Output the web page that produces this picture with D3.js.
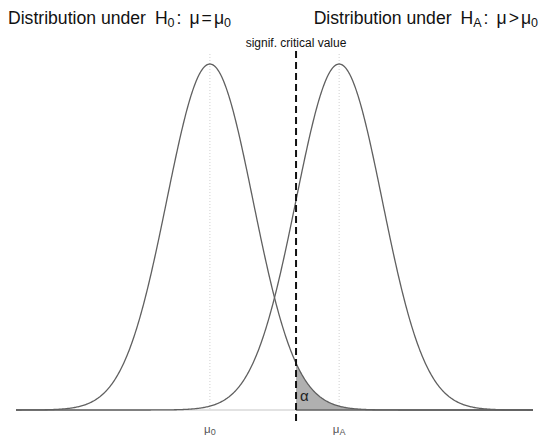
<!DOCTYPE html>
<html><head><meta charset="utf-8">
<script src="https://cdn.jsdelivr.net/npm/d3@7"></script>
<style>body{margin:0;background:#fff}svg{display:block}text{font-family:"Liberation Sans",Arial,sans-serif}</style>
</head><body>
<svg id="c" width="543" height="437"></svg>
<script>
// data
const means = [0, 3];            // mu0, muA
const meanLabels = ["0", "A"];   // subscripts
const sd = 1;
const critValue = 2;
const xDomain = [-4.5, 7.5];
const titleSubs = [["0", "=", "0"], ["A", ">", "0"]];

const svg = d3.select("#c");
const x = d3.scaleLinear().domain(xDomain).range([16, 533]);
const y = d3.scaleLinear().domain([0, 1/Math.sqrt(2*Math.PI)]).range([410, 64]);
const dens = (v, m) => Math.exp(-0.5*((v-m)/sd)**2)/(sd*Math.sqrt(2*Math.PI));
const xs = d3.range(xDomain[0], xDomain[1]+1e-9, 0.02);

// light baseline
svg.append("line").attr("x1", x(xDomain[0])).attr("x2", x(xDomain[1]))
  .attr("y1", y(0)).attr("y2", y(0)).attr("stroke", "#d9d9d9").attr("stroke-width", 1.5);

// dotted mean lines
means.forEach(m => {
  svg.append("line").attr("x1", x(m)).attr("x2", x(m)).attr("y1", 54).attr("y2", y(0))
    .attr("stroke", "#d0d0d0").attr("stroke-width", 1).attr("stroke-dasharray", "1,2");
});

// shaded alpha region
const shadeX = xs.filter(v => v >= critValue);
const area = d3.area().x(d => x(d)).y0(y(0)).y1(d => y(dens(d, means[0])));
svg.append("path").datum([critValue, ...shadeX])
  .attr("d", area).attr("fill", "#b0b0b0").attr("stroke", "none");
svg.append("line").attr("x1", x(critValue)).attr("x2", x(xDomain[1]))
  .attr("y1", y(0)).attr("y2", y(0)).attr("stroke", "#666").attr("stroke-width", 1.3);

// curves
const line = d3.line().x(d => x(d[0])).y(d => y(d[1]));
means.forEach(m => {
  svg.append("path").datum(xs.map(v => [v, dens(v, m)]))
    .attr("d", line).attr("fill", "none").attr("stroke", "#606060").attr("stroke-width", 1.3);
});

// critical value dashed line
svg.append("line").attr("x1", x(critValue)).attr("x2", x(critValue)).attr("y1", 51).attr("y2", 424)
  .attr("stroke", "#111").attr("stroke-width", 2).attr("stroke-dasharray", "7,4");
svg.append("text").attr("x", x(critValue)).attr("y", 47).attr("text-anchor", "middle")
  .attr("font-size", 12).attr("fill", "#111").text("signif. critical value");

// alpha
svg.append("text").attr("x", x(critValue) + 4).attr("y", 401).attr("font-size", 15)
  .attr("fill", "#222").text("\u03B1");

// mean labels
means.forEach((m, i) => {
  const t = svg.append("text").attr("x", x(m)).attr("y", 433).attr("text-anchor", "middle")
    .attr("font-size", 11.5).attr("fill", "#555");
  t.append("tspan").text("\u03BC");
  t.append("tspan").attr("font-size", 9).attr("dy", 2).text(meanLabels[i]);
});

// titles
const titleX = [8, 538];
const anchors = ["start", "end"];
titleSubs.forEach((tt, i) => {
  const t = svg.append("text").attr("x", titleX[i]).attr("y", 24).attr("text-anchor", anchors[i])
    .attr("font-size", 17.6).attr("fill", "#111");
  t.append("tspan").text("Distribution under");
  t.append("tspan").attr("dx", 9).text("H");
  t.append("tspan").attr("font-size", 12.5).attr("dy", 3).text(tt[0]);
  t.append("tspan").attr("dy", -3).attr("dx", 2).text(":");
  t.append("tspan").attr("dx", 8).text("\u03BC");
  t.append("tspan").attr("dx", 2).text(tt[1]);
  t.append("tspan").attr("dx", 2).text("\u03BC");
  t.append("tspan").attr("font-size", 12.5).attr("dy", 3).text(tt[2]);
});
</script>
</body></html>
